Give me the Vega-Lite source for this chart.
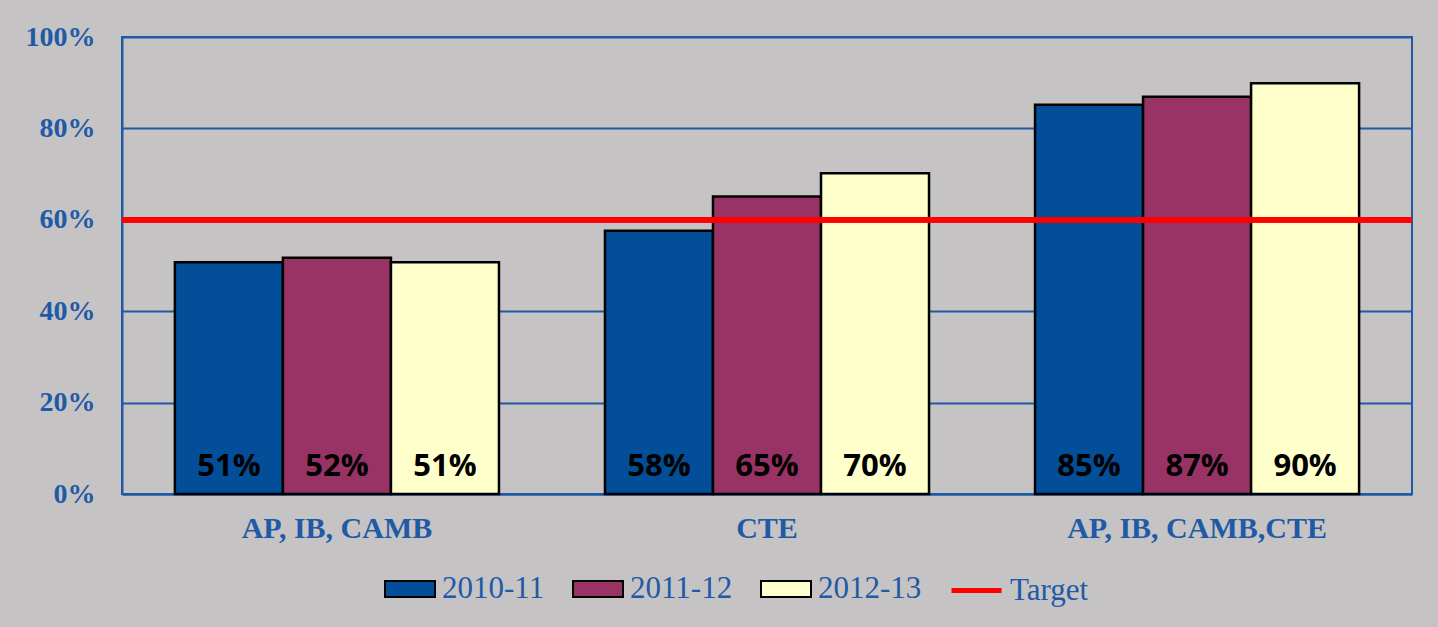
{
  "$schema": "https://vega.github.io/schema/vega-lite/v6.json",
  "width": 1290,
  "height": 457,
  "autosize": {"type": "none"},
  "padding": {"left": 122, "top": 37, "right": 26, "bottom": 133},
  "background": "#C6C3C4",
  "config": {
    "view": {"stroke": "#1F5AA6", "strokeWidth": 2},
    "axis": {"labelColor": "#1F5AA6", "domainColor": "#1F5AA6", "domainWidth": 2, "ticks": false, "title": null},
    "legend": {"labelFont": "Liberation Serif", "labelFontSize": 31, "labelColor": "#1F5AA6", "labelLimit": 300, "labelOffset": 6, "padding": 0, "symbolSize": 2500, "title": null}
  },
  "data": {
    "values": [
      {"category": "AP, IB, CAMB", "year": "2010-11", "value": 0.507, "label": "51%"},
      {"category": "AP, IB, CAMB", "year": "2011-12", "value": 0.517, "label": "52%"},
      {"category": "AP, IB, CAMB", "year": "2012-13", "value": 0.507, "label": "51%"},
      {"category": "CTE", "year": "2010-11", "value": 0.576, "label": "58%"},
      {"category": "CTE", "year": "2011-12", "value": 0.651, "label": "65%"},
      {"category": "CTE", "year": "2012-13", "value": 0.702, "label": "70%"},
      {"category": "AP, IB, CAMB,CTE", "year": "2010-11", "value": 0.852, "label": "85%"},
      {"category": "AP, IB, CAMB,CTE", "year": "2011-12", "value": 0.869, "label": "87%"},
      {"category": "AP, IB, CAMB,CTE", "year": "2012-13", "value": 0.899, "label": "90%"}
    ]
  },
  "layer": [
    {
      "mark": {"type": "bar", "stroke": "black", "strokeWidth": 2.5},
      "encoding": {
        "x": {
          "field": "category", "type": "nominal", "sort": null,
          "scale": {"paddingInner": 0.2465, "paddingOuter": 0.123},
          "axis": {"labelAngle": 0, "labelFont": "Liberation Serif", "labelFontWeight": "bold", "labelFontSize": 30, "labelPadding": 19, "labelLimit": 500}
        },
        "xOffset": {"field": "year", "type": "nominal", "sort": null},
        "y": {
          "field": "value", "type": "quantitative",
          "scale": {"domain": [0, 1], "nice": false},
          "axis": {"values": [0, 0.2, 0.4, 0.6, 0.8, 1], "format": ".0%", "gridColor": "#1F5AA6", "gridWidth": 2, "gridOpacity": 1, "labelFont": "Liberation Serif", "labelFontWeight": "bold", "labelFontSize": 28, "labelPadding": 27}
        },
        "fill": {
          "field": "year", "type": "nominal",
          "scale": {"domain": ["2010-11", "2011-12", "2012-13"], "range": ["#024E98", "#993366", "#FFFFCC"]},
          "legend": {
            "orient": "none",
            "legendX": 262,
            "legendY": 526,
            "direction": "horizontal",
            "columns": 3,
            "gridAlign": "all",
            "columnPadding": 23,
            "symbolType": "M-1,-0.32H1V0.32H-1Z",
            "symbolStrokeColor": "black",
            "symbolStrokeWidth": 2,
            "symbolOpacity": 1
          }
        }
      }
    },
    {
      "mark": {"type": "text", "font": "Open Sans", "fontWeight": "bold", "fontSize": 31, "color": "black", "baseline": "alphabetic", "dy": -18},
      "encoding": {
        "x": {"field": "category", "type": "nominal", "sort": null},
        "xOffset": {"field": "year", "type": "nominal", "sort": null},
        "y": {"datum": 0},
        "text": {"field": "label"}
      }
    },
    {
      "mark": {"type": "rule", "strokeWidth": 5},
      "encoding": {
        "y": {"datum": 0.6},
        "stroke": {
          "datum": "Target",
          "scale": {"domain": ["Target"], "range": ["#FF0000"]},
          "legend": {
            "orient": "none",
            "legendX": 827,
            "legendY": 526,
            "direction": "horizontal",
            "symbolType": "stroke",
            "symbolStrokeWidth": 5,
            "symbolOpacity": 1
          }
        }
      }
    }
  ]
}
